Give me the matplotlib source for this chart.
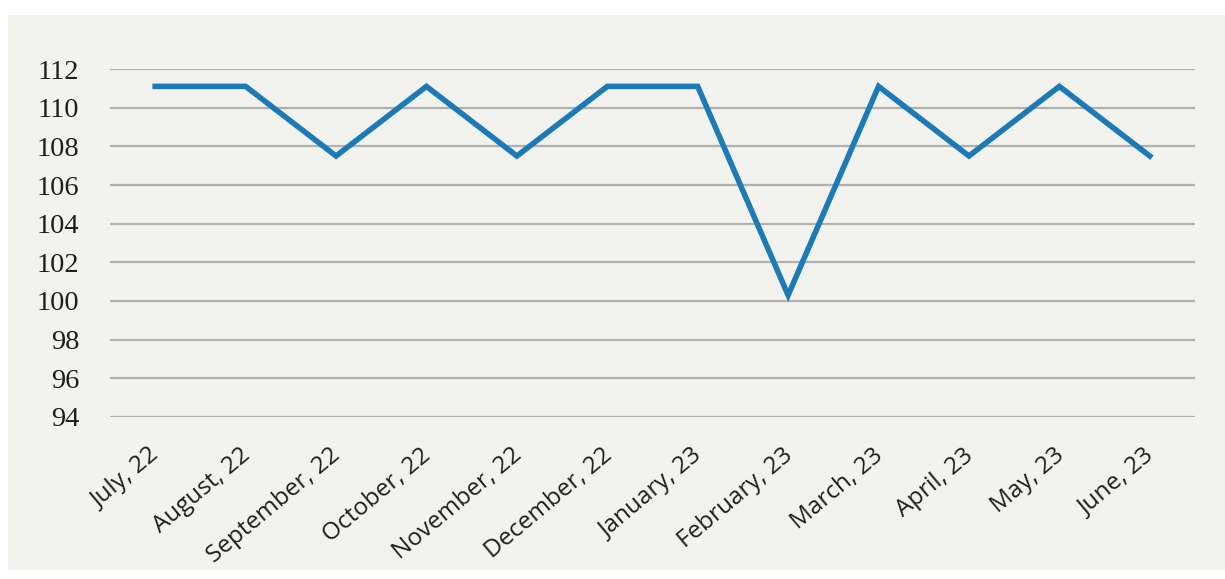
import matplotlib.pyplot as plt
import matplotlib.patches as patches
import matplotlib.transforms as mtransforms

months = ['July, 22', 'August, 22', 'September, 22', 'October, 22', 'November, 22',
          'December, 22', 'January, 23', 'February, 23', 'March, 23', 'April, 23',
          'May, 23', 'June, 23']
index = [111.1, 111.1, 107.5, 111.1, 107.5, 111.1, 111.1, 100.3, 111.1, 107.5, 111.1, 107.5]
yticks = [94, 96, 98, 100, 102, 104, 106, 108, 110, 112]

fig = plt.figure(figsize=(12.25, 5.79), dpi=100, facecolor='white')
# grey panel behind the chart
fig.patches.append(patches.Rectangle((8 / 1225, 9 / 579), 1 - 8 / 1225, 1 - 24 / 579,
                                     transform=fig.transFigure, facecolor='#f2f2ee',
                                     edgecolor='none', zorder=-1))

ax = fig.add_axes([110 / 1225, 1 - 417 / 579, 1085 / 1225, 348 / 579])
ax.set_facecolor('none')

x = list(range(len(months)))
ax.plot(x, index, color='#1c7ab6', linewidth=4, solid_joinstyle='miter', zorder=3)

ax.set_xlim(-0.5, len(months) - 0.5)
ax.set_ylim(94, 112)
ax.set_yticks(yticks)
ax.set_yticklabels([str(v) for v in yticks], family='Liberation Serif', fontsize=20.5, color='#1e1e1e')
ax.set_xticks(x)
ax.set_xticklabels(months, rotation=40, ha='right', rotation_mode='anchor',
                   family='Open Sans', fontsize=17.5, color='#1e1e1e')
ax.tick_params(axis='both', length=0)
ax.tick_params(axis='y', pad=22)
ax.tick_params(axis='x', pad=19)

# nudge the slanted month labels a little to the left
shift = mtransforms.ScaledTranslation(-6 / 100, 0, fig.dpi_scale_trans)
for lbl in ax.get_xticklabels():
    lbl.set_transform(lbl.get_transform() + shift)

ax.grid(axis='y', color='#b0b0ac', linewidth=1.6)
ax.set_axisbelow(True)
for s in ax.spines.values():
    s.set_visible(False)

fig.savefig('out.png', dpi=100)
